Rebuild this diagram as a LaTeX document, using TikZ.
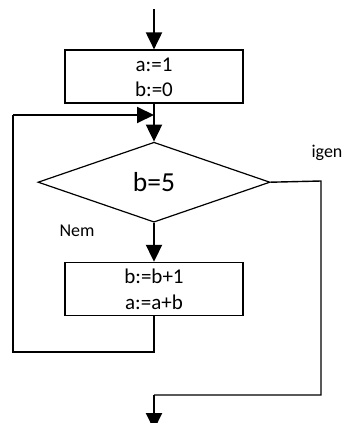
\documentclass[tikz,border=0pt]{standalone}
\usepackage{fontspec}
\setmainfont{Carlito}
\usetikzlibrary{positioning,shapes.geometric,arrows.meta}
\newcommand{\rowstrut}{\rule{0pt}{15pt}}

\begin{document}
\begin{tikzpicture}[x=1pt,y=-1pt,
  stepbox/.style={draw, line width=1.2pt, minimum width=178pt, minimum height=53pt,
    inner sep=0pt, align=center, font=\fontsize{21}{25.5}\selectfont},
  test/.style={diamond, draw, line width=1.2pt, minimum width=232pt, minimum height=80pt,
    inner sep=0pt, font=\fontsize{27.5}{30}\selectfont},
  flow/.style={line width=2pt, -{Triangle[width=16pt,length=17pt]}},
  back/.style={line width=1.4pt},
  lbl/.style={font=\fontsize{18}{20}\selectfont}]

  \useasboundingbox (0,0) rectangle (344,423);
  \clip (0,0) rectangle (344,423);

  % Define nodes
  \coordinate (start) at (154,9);
  \node[stepbox] (init) at (154,76.5) {\rowstrut a:=1\\\rowstrut b:=0};
  \node[test, below=38pt of init] (cond) {b=5};
  \node[stepbox, below=39pt of cond] (body) {\rowstrut b:=b+1\\\rowstrut a:=a+b};

  \coordinate (merge) at (154,115);
  \coordinate (loopa) at (154,352);
  \coordinate (loopb) at (13,352);
  \coordinate (loopc) at (13,115);
  \coordinate (yes) at (321,181);
  \coordinate (yesdown) at (321,395);
  \coordinate (join) at (154,395);
  \coordinate (stop) at (154,430);

  \node[lbl] (yeslbl) at (327,153) {igen};
  \node[lbl] (nolbl) at (77,230.5) {Nem};

  % Connect the nodes
  \draw[flow] (start) -- (init);
  \draw[flow] (init) -- (cond);
  \draw[flow] (cond) -- (body);
  \draw[back] (body) -- (loopa) -- (loopb) -- (loopc);
  \draw[flow] (loopc) -- (merge);
  \draw[back] (cond.east) -- (yes) -- (yesdown) -- (join);
  \draw[flow] (join) -- (stop);

\end{tikzpicture}
\end{document}
